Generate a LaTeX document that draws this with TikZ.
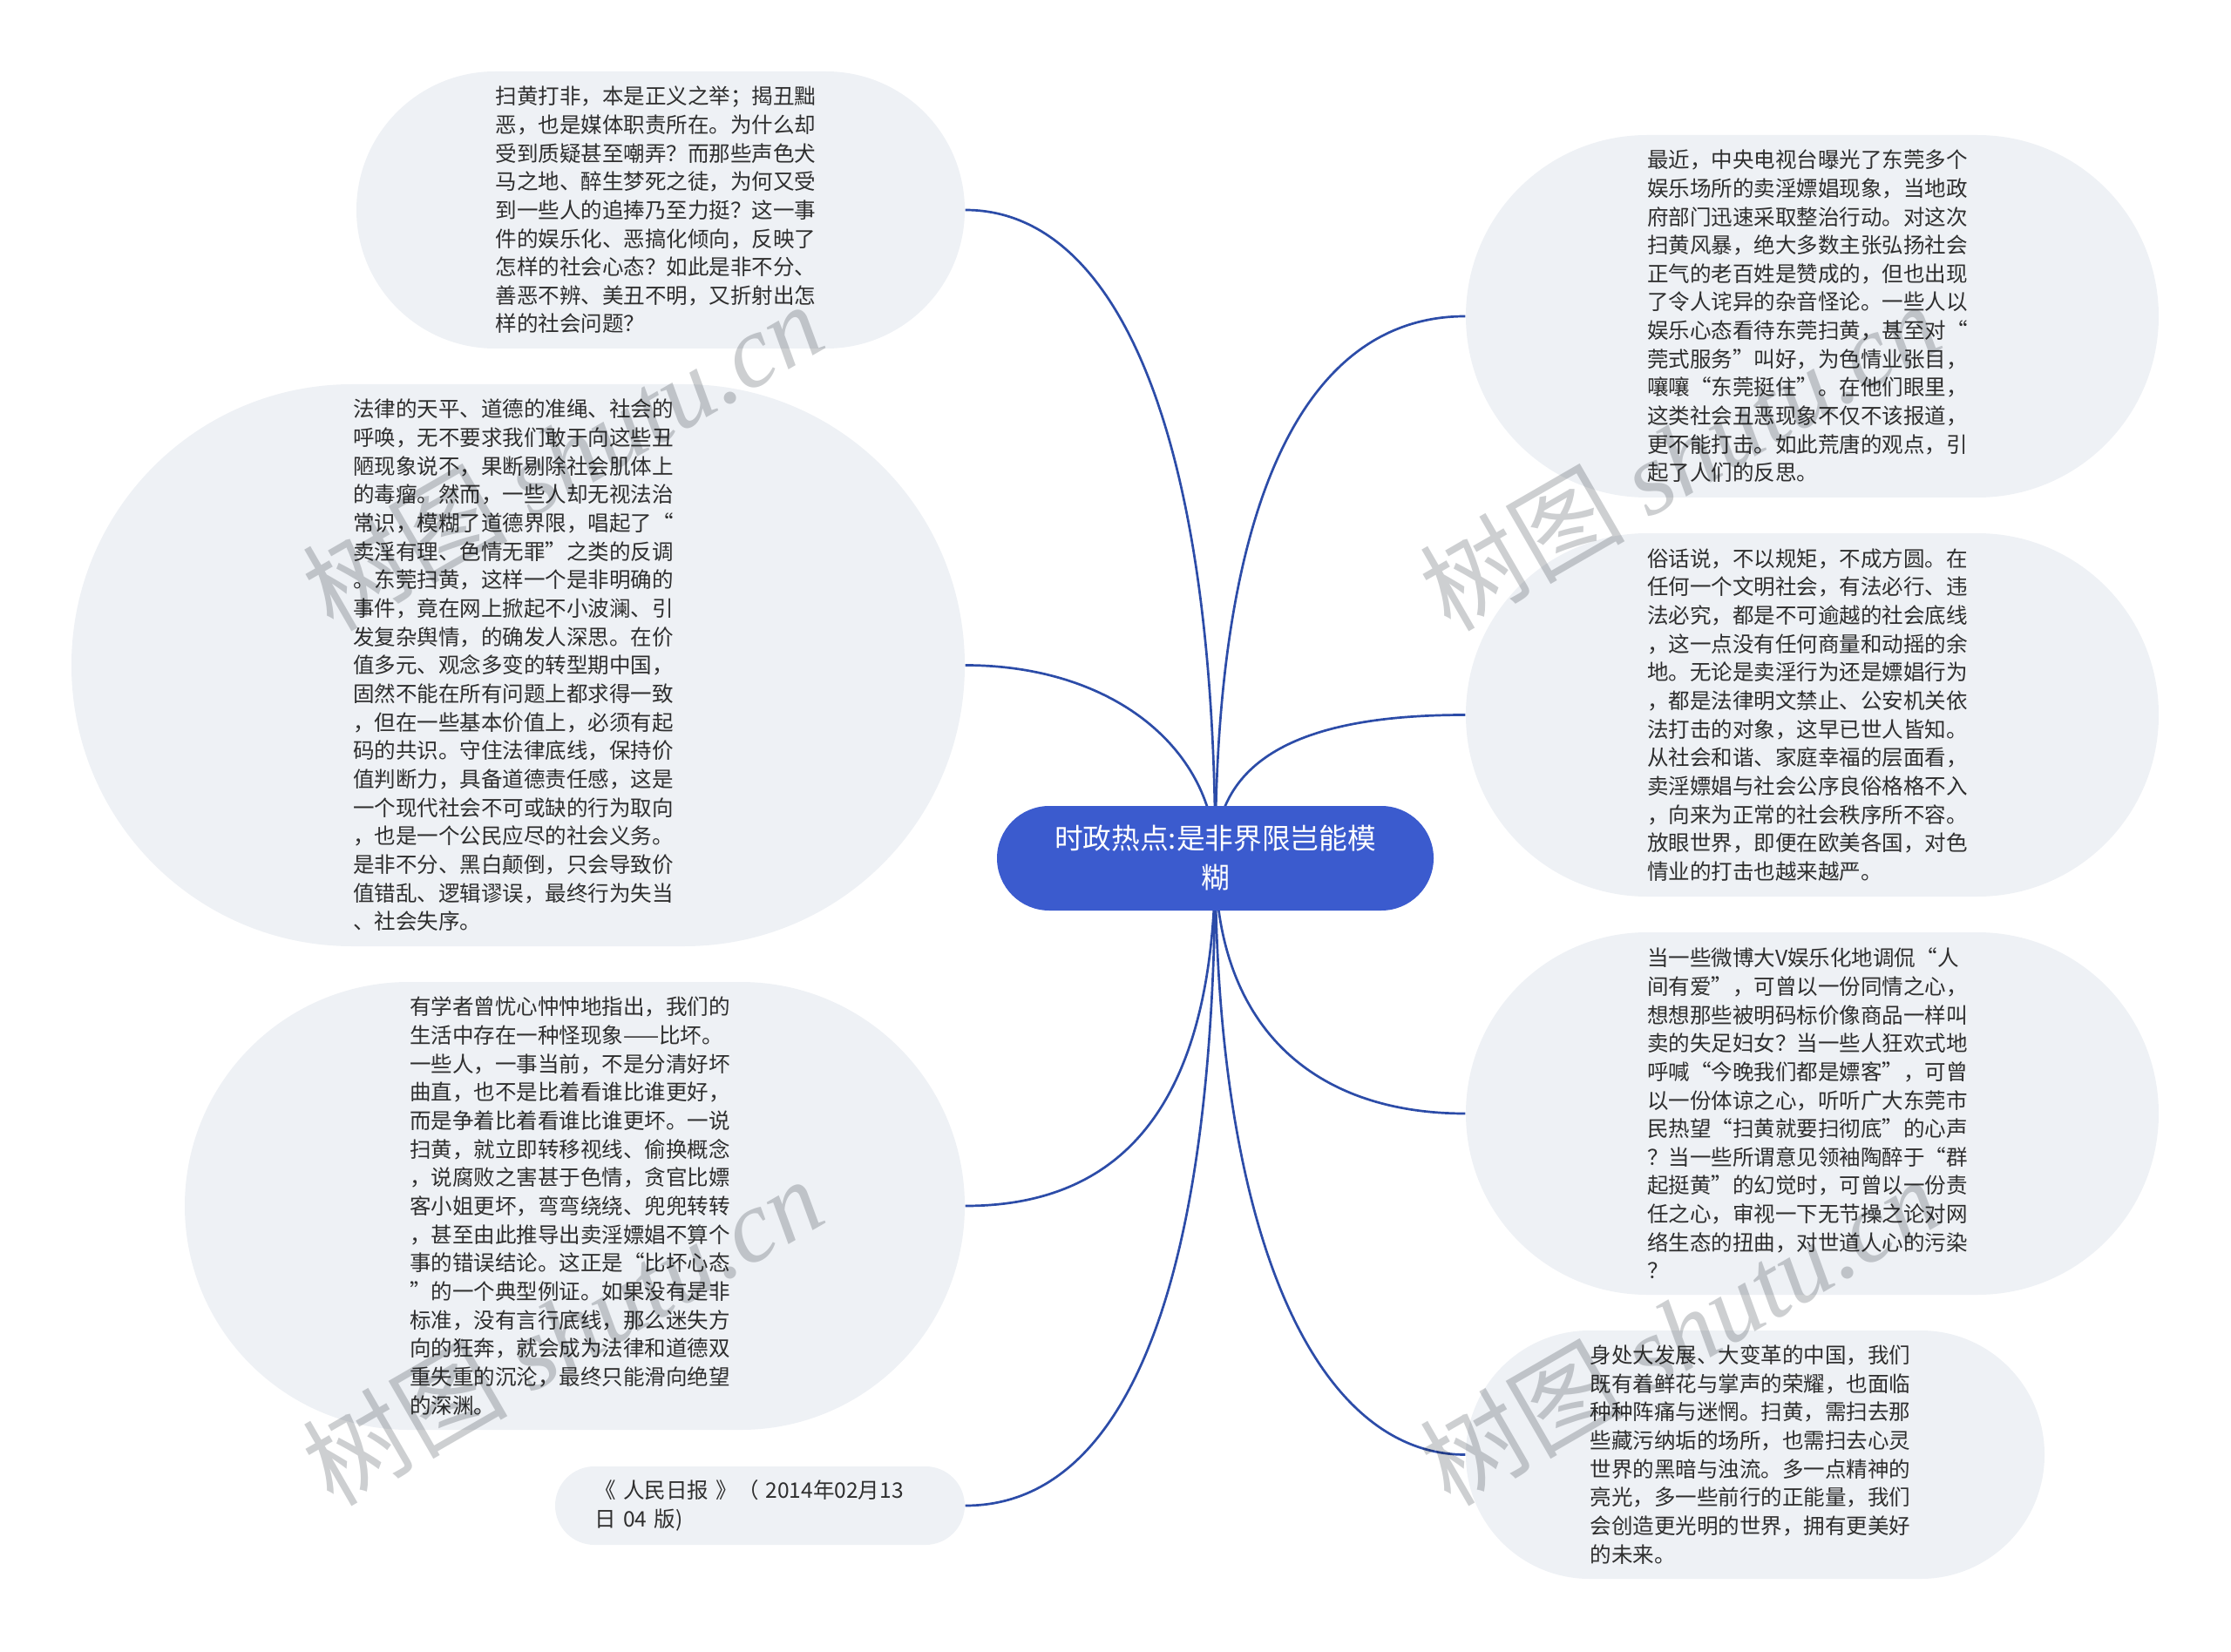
\documentclass[tikz,border=0pt]{standalone}
\usepackage{fontspec}
\setmainfont{Noto Sans CJK SC}
\newfontfamily\markfont{Liberation Serif}
\usetikzlibrary{backgrounds}
\definecolor{bubblefill}{HTML}{EEF1F5}
\definecolor{bubbletext}{HTML}{2E2E2E}
\definecolor{rootfill}{HTML}{3B5BCE}
\definecolor{branchline}{HTML}{2C4CA8}
\definecolor{markgray}{HTML}{CDCFD1}
\tikzset{
  bubble/.style={fill=bubblefill,text=bubbletext,align=left,text width=3.79cm,inner sep=0pt,
    font=\fontsize{6.98}{9.29}\selectfont},
  rootbubble/.style={fill=rootfill,text=white,align=center,text width=4.2cm,inner sep=0pt,
    minimum width=5.01cm,minimum height=1.2cm,rounded corners=0.6cm,
    font=\fontsize{9.3}{12.7}\selectfont},
  branch/.style={color=branchline,line width=0.027cm},
  markword/.style={text=markgray,rotate=30,inner sep=0pt,font=\fontsize{33.5}{33.5}\selectfont},
}

\begin{document}
\begin{tikzpicture}
         \useasboundingbox (0,0) rectangle (25.6,18.95) ;
         \node[rootbubble] (root) at (13.945,9.10) {时政热点:是非界限岂能模\\糊} ;
         \node[bubble,minimum width=6.98cm,minimum height=3.18cm,rounded corners=1.59cm] (mock) at (7.58,16.54) {扫黄打非，本是正义之举；揭丑黜\\
恶，也是媒体职责所在。为什么却\\
受到质疑甚至嘲弄？而那些声色犬\\
马之地、醉生梦死之徒，为何又受\\
到一些人的追捧乃至力挺？这一事\\
件的娱乐化、恶搞化倾向，反映了\\
怎样的社会心态？如此是非不分、\\
善恶不辨、美丑不明，又折射出怎\\
样的社会问题？} ;
         \node[bubble,minimum width=10.25cm,minimum height=6.45cm,rounded corners=3.22cm] (law) at (5.945,11.315) {法律的天平、道德的准绳、社会的\\
呼唤，无不要求我们敢于向这些丑\\
陋现象说不，果断剔除社会肌体上\\
的毒瘤。然而，一些人却无视法治\\
常识，模糊了道德界限，唱起了“\\
卖淫有理、色情无罪”之类的反调\\
。东莞扫黄，这样一个是非明确的\\
事件，竟在网上掀起不小波澜、引\\
发复杂舆情，的确发人深思。在价\\
值多元、观念多变的转型期中国，\\
固然不能在所有问题上都求得一致\\
，但在一些基本价值上，必须有起\\
码的共识。守住法律底线，保持价\\
值判断力，具备道德责任感，这是\\
一个现代社会不可或缺的行为取向\\
，也是一个公民应尽的社会义务。\\
是非不分、黑白颠倒，只会导致价\\
值错乱、逻辑谬误，最终行为失当\\
、社会失序。} ;
         \node[bubble,minimum width=8.95cm,minimum height=5.14cm,rounded corners=2.57cm] (worse) at (6.595,5.11) {有学者曾忧心忡忡地指出，我们的\\
生活中存在一种怪现象——比坏。\\
一些人，一事当前，不是分清好坏\\
曲直，也不是比着看谁比谁更好，\\
而是争着比着看谁比谁更坏。一说\\
扫黄，就立即转移视线、偷换概念\\
，说腐败之害甚于色情，贪官比嫖\\
客小姐更坏，弯弯绕绕、兜兜转转\\
，甚至由此推导出卖淫嫖娼不算个\\
事的错误结论。这正是“比坏心态\\
”的一个典型例证。如果没有是非\\
标准，没有言行底线，那么迷失方\\
向的狂奔，就会成为法律和道德双\\
重失重的沉沦，最终只能滑向绝望\\
的深渊。} ;
         \node[bubble,minimum width=4.7cm,minimum height=0.9cm,rounded corners=0.45cm] (paper) at (8.72,1.67) {《 人民日报 》（ 2014年02月13\\
日 04 版)} ;
         \node[bubble,minimum width=7.95cm,minimum height=4.16cm,rounded corners=2.08cm] (recent) at (20.795,15.32) {最近，中央电视台曝光了东莞多个\\
娱乐场所的卖淫嫖娼现象，当地政\\
府部门迅速采取整治行动。对这次\\
扫黄风暴，绝大多数主张弘扬社会\\
正气的老百姓是赞成的，但也出现\\
了令人诧异的杂音怪论。一些人以\\
娱乐心态看待东莞扫黄，甚至对“\\
莞式服务”叫好，为色情业张目，\\
嚷嚷“东莞挺住”。在他们眼里，\\
这类社会丑恶现象不仅不该报道，\\
更不能打击。如此荒唐的观点，引\\
起了人们的反思。} ;
         \node[bubble,minimum width=7.95cm,minimum height=4.17cm,rounded corners=2.08cm] (rule) at (20.795,10.745) {俗话说，不以规矩，不成方圆。在\\
任何一个文明社会，有法必行、违\\
法必究，都是不可逾越的社会底线\\
，这一点没有任何商量和动摇的余\\
地。无论是卖淫行为还是嫖娼行为\\
，都是法律明文禁止、公安机关依\\
法打击的对象，这早已世人皆知。\\
从社会和谐、家庭幸福的层面看，\\
卖淫嫖娼与社会公序良俗格格不入\\
，向来为正常的社会秩序所不容。\\
放眼世界，即便在欧美各国，对色\\
情业的打击也越来越严。} ;
         \node[bubble,minimum width=7.95cm,minimum height=4.16cm,rounded corners=2.08cm] (weibo) at (20.795,6.17) {当一些微博大V娱乐化地调侃“人\\
间有爱”，可曾以一份同情之心，\\
想想那些被明码标价像商品一样叫\\
卖的失足妇女？当一些人狂欢式地\\
呼喊“今晚我们都是嫖客”，可曾\\
以一份体谅之心，听听广大东莞市\\
民热望“扫黄就要扫彻底”的心声\\
？当一些所谓意见领袖陶醉于“群\\
起挺黄”的幻觉时，可曾以一份责\\
任之心，审视一下无节操之论对网\\
络生态的扭曲，对世道人心的污染\\
？} ;
         \node[bubble,minimum width=6.64cm,minimum height=2.85cm,rounded corners=1.42cm] (future) at (20.14,2.255) {身处大发展、大变革的中国，我们\\
既有着鲜花与掌声的荣耀，也面临\\
种种阵痛与迷惘。扫黄，需扫去那\\
些藏污纳垢的场所，也需扫去心灵\\
世界的黑暗与浊流。多一点精神的\\
亮光，多一些前行的正能量，我们\\
会创造更光明的世界，拥有更美好\\
的未来。} ;
         % branches start under the root
         \begin{scope}[on background layer]
         \draw[branch] (root.center) .. controls +(0,4.91) and +(1.73,0) .. (mock.east) ;
         \draw[branch] (root.center) .. controls +(0,1.22) and +(1.73,0) .. (law.east) ;
         \draw[branch] (root.center) .. controls +(0,-2.92) and +(1.73,0) .. (worse.east) ;
         \draw[branch] (root.center) .. controls +(0,-5.19) and +(1.73,0) .. (paper.east) ;
         \draw[branch] (root.center) .. controls +(0,4.36) and +(-1.72,0) .. (recent.west) ;
         \draw[branch] (root.center) .. controls +(0,1.23) and +(-1.72,0) .. (rule.west) ;
         \draw[branch] (root.center) .. controls +(0,-1.96) and +(-1.72,0) .. (weibo.west) ;
         \draw[branch] (root.center) .. controls +(0,-4.32) and +(-1.72,0) .. (future.west) ;
         \end{scope}
         % watermark on top
         \begin{scope}[blend mode=multiply]
         \foreach \markx/\marky in {6.45/13.72,19.27/13.72,6.45/3.68,19.27/3.68}
            \node[markword] (mark\markx-\marky) at (\markx,\marky) {树图 {\markfont\itshape shutu.cn}} ;
         \end{scope}
\end{tikzpicture}
\end{document}
